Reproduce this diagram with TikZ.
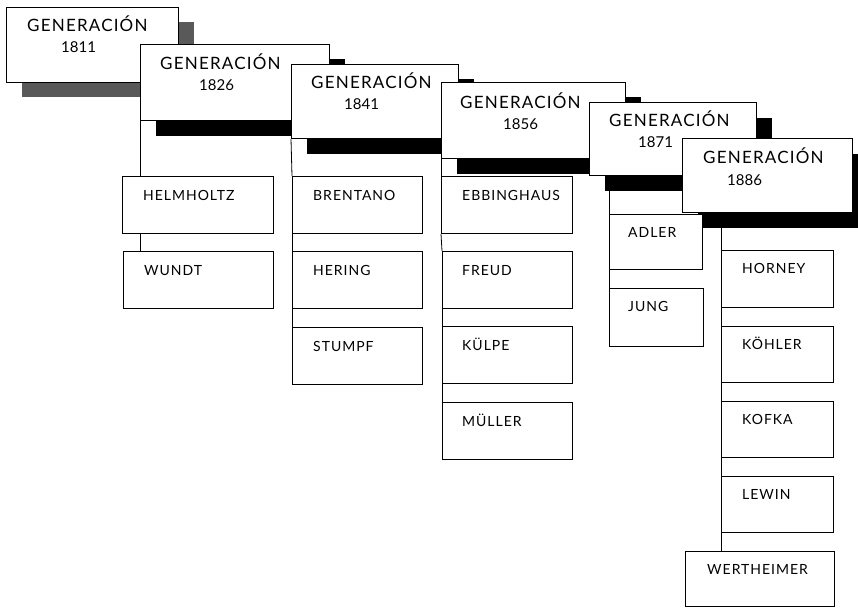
\documentclass[tikz,border=0pt]{standalone}
\usepackage{fontspec}
\setmainfont{Lato}
\usetikzlibrary{shadows}
\begin{document}
\begin{tikzpicture}[x=1pt,y=-1pt,
  genbox/.style={draw=black,line width=1pt,fill=white,inner sep=0pt,anchor=north west,
    drop shadow={shadow xshift=15pt,shadow yshift=-15pt,fill=black,opacity=1}},
  membox/.style={draw=black,line width=1pt,fill=white,inner sep=0pt,anchor=north west},
  gentxt/.style={inner sep=0pt,anchor=base west,font=\fontsize{17}{19}\selectfont\addfontfeatures{LetterSpace=7}},
  yeartxt/.style={inner sep=0pt,anchor=base west,font=\fontsize{15}{18}\selectfont},
  memtxt/.style={inner sep=0pt,anchor=base west,font=\fontsize{14}{16}\selectfont\addfontfeatures{LetterSpace=7}},
  conn/.style={line width=0.8pt,draw=black}]
\useasboundingbox (0,0) rectangle (858,607);

% generation boxes
\node[genbox,minimum width=172pt,minimum height=75pt,
  drop shadow={shadow xshift=15pt,shadow yshift=-15pt,fill=black!65,opacity=1}] (g1811) at (6,7) {};
\node[gentxt] (g1811a) at (27,32) {GENERACIÓN};
\node[yeartxt] (g1811b) at (61,53) {1811};

\node[genbox,minimum width=189pt,minimum height=76pt] (g1826) at (140,44) {};
\node[gentxt] (g1826a) at (160,70) {GENERACIÓN};
\node[yeartxt] (g1826b) at (199,91) {1826};

\node[genbox,minimum width=167pt,minimum height=74pt] (g1841) at (291,64) {};
\node[gentxt] (g1841a) at (311,89) {GENERACIÓN};
\node[yeartxt] (g1841b) at (344,110) {1841};

\node[genbox,minimum width=184pt,minimum height=76pt] (g1856) at (441,82) {};
\node[gentxt] (g1856a) at (460,108) {GENERACIÓN};
\node[yeartxt] (g1856b) at (503,129) {1856};

\node[genbox,minimum width=167pt,minimum height=73pt] (g1871) at (589,102) {};
\node[gentxt] (g1871a) at (609,126) {GENERACIÓN};
\node[yeartxt] (g1871b) at (638,147) {1871};

\node[genbox,minimum width=170pt,minimum height=74pt] (g1886) at (682,138) {};
\node[gentxt] (g1886a) at (703,163) {GENERACIÓN};
\node[yeartxt] (g1886b) at (727,185) {1886};

% member boxes
\node[membox,minimum width=151pt,minimum height=57pt] (helm) at (122,176) {};
\node[memtxt] (helmt) at (143,200) {HELMHOLTZ};
\node[membox,minimum width=150pt,minimum height=57pt] (wundt) at (123,251) {};
\node[memtxt] (wundtt) at (144,275) {WUNDT};

\node[membox,minimum width=130pt,minimum height=57pt] (bren) at (292,176) {};
\node[memtxt] (brent) at (313,200) {BRENTANO};
\node[membox,minimum width=130pt,minimum height=57pt] (heri) at (292,251) {};
\node[memtxt] (herit) at (313,275) {HERING};
\node[membox,minimum width=130pt,minimum height=57pt] (stum) at (292,327) {};
\node[memtxt] (stumt) at (313,351) {STUMPF};

\node[membox,minimum width=131pt,minimum height=57pt] (ebb) at (441,176) {};
\node[memtxt] (ebbt) at (462,200) {EBBINGHAUS};
\node[membox,minimum width=130pt,minimum height=57pt] (freud) at (442,251) {};
\node[memtxt] (freudt) at (462,275) {FREUD};
\node[membox,minimum width=130pt,minimum height=57pt] (kulpe) at (442,326) {};
\node[memtxt] (kulpet) at (462,350) {KÜLPE};
\node[membox,minimum width=130pt,minimum height=57pt] (mull) at (442,402) {};
\node[memtxt] (mullt) at (462,426) {MÜLLER};

\node[membox,minimum width=93pt,minimum height=55pt] (adler) at (609,214) {};
\node[memtxt] (adlert) at (628,237) {ADLER};
\node[membox,minimum width=94pt,minimum height=58pt] (jung) at (609,288) {};
\node[memtxt] (jungt) at (628,311) {JUNG};

\node[membox,minimum width=112pt,minimum height=57pt] (horn) at (721,250) {};
\node[memtxt] (hornt) at (742,273) {HORNEY};
\node[membox,minimum width=112pt,minimum height=56pt] (kohl) at (721,326) {};
\node[memtxt] (kohlt) at (742,349) {KÖHLER};
\node[membox,minimum width=112pt,minimum height=56pt] (kofka) at (721,401) {};
\node[memtxt] (kofkat) at (742,424) {KOFKA};
\node[membox,minimum width=112pt,minimum height=56pt] (lewin) at (721,476) {};
\node[memtxt] (lewint) at (742,499) {LEWIN};
\node[membox,minimum width=149pt,minimum height=55pt] (wert) at (685,551) {};
\node[memtxt] (wertt) at (707,574) {WERTHEIMER};

% connectors
\draw[conn] (g1826.south west) -- (g1826.south west |- helm.north);
\draw[conn] (helm.south -| g1826.south west) -- (wundt.north -| g1826.south west);

\draw[conn] (g1841.south west) -- (bren.north west);
\draw[conn] (bren.south west) -- (heri.north west);
\draw[conn] (heri.south west) -- (stum.north west);

\draw[conn] (g1856.south west) -- (ebb.north west);
\draw[conn] (ebb.south west) -- (freud.north west);
\draw[conn] (freud.south west) -- (kulpe.north west);
\draw[conn] (kulpe.south west) -- (mull.north west);

\draw[conn] (adler.north west |- g1871.south) -- (adler.north west);
\draw[conn] (adler.south west) -- (jung.north west);

\draw[conn] (horn.north west |- g1886.south) -- (horn.north west);
\draw[conn] (horn.south west) -- (kohl.north west);
\draw[conn] (kohl.south west) -- (kofka.north west);
\draw[conn] (kofka.south west) -- (lewin.north west);
\draw[conn] (lewin.south west) -- (lewin.south west |- wert.north);
\end{tikzpicture}
\end{document}
